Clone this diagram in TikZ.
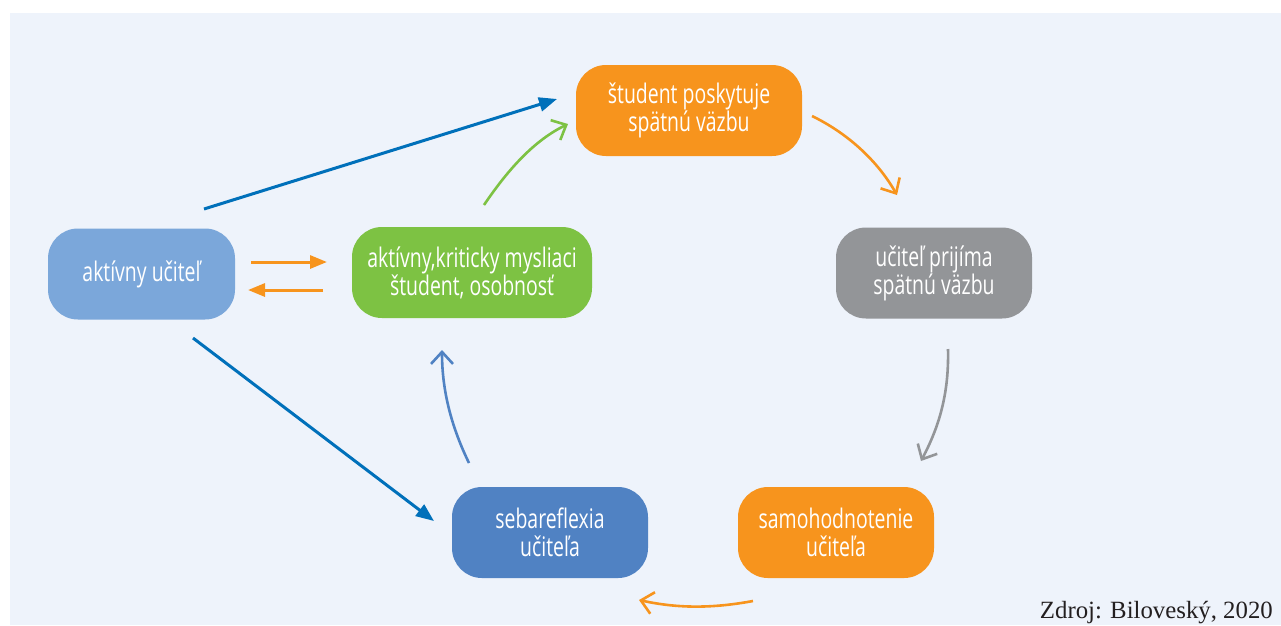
\documentclass[tikz,border=0pt]{standalone}
\usepackage{fontspec}
\setmainfont{Liberation Serif}
\newfontfamily\condfont[FakeStretch=0.72]{Open Sans}
\usetikzlibrary{arrows.meta}
\definecolor{bgc}{HTML}{EEF3FB}
\definecolor{lblue}{HTML}{7BA7DA}
\definecolor{grn}{HTML}{7DC243}
\definecolor{org}{HTML}{F7941D}
\definecolor{gry}{HTML}{939598}
\definecolor{mblue}{HTML}{5082C3}
\definecolor{dblue}{HTML}{0070BA}
\definecolor{txtc}{HTML}{231F20}
\tikzset{
  box/.style={rounded corners=30pt, minimum height=91pt, text=white, align=center,
    inner sep=0pt, font=\condfont\fontsize{27}{28}\selectfont},
  solidarr/.style={line width=3pt, -{Triangle[length=18pt,width=14pt]}},
  barbarr/.style={line width=2.6pt, -{Straight Barb[length=12pt,width=22pt]}},
}
\begin{document}
\begin{tikzpicture}[x=1pt,y=-1pt]
\useasboundingbox (0,0) rectangle (1281,625);
\fill[bgc] (10,13) rectangle (1281,625);

\node[box, fill=lblue, minimum width=187pt] (uc) at (141.5,274) {akt\'ivny u\v{c}ite\v{l}};
\node[box, fill=grn, minimum width=240pt] (st) at (472,272.5) {akt\'ivny,kriticky mysliaci\\\v{s}tudent, osobnos\v{t}};
\node[box, fill=org, minimum width=226pt] (sp) at (689,110.5) {\v{s}tudent poskytuje\\sp\"atn\'u v\"azbu};
\node[box, fill=gry, minimum width=196pt] (pr) at (934,273) {u\v{c}ite\v{l} prij\'ima\\sp\"atn\'u v\"azbu};
\node[box, fill=mblue, minimum width=196pt] (sb) at (550,532.5) {sebareflexia\\u\v{c}ite\v{l}a};
\node[box, fill=org, minimum width=196pt] (sh) at (836,532.5) {samohodnotenie\\u\v{c}ite\v{l}a};

\node[anchor=base east, text=txtc, font=\fontsize{24.8}{26}\selectfont, inner sep=0pt] (src) at (1273,618) {Zdroj: Bilovesk\'y, 2020};

% endpoints
\coordinate (a1) at (204,209); \coordinate (a2) at (557,99);
\coordinate (b1) at (193,338); \coordinate (b2) at (434,521);
\coordinate (c1) at (251,262); \coordinate (c2) at (327,262);
\coordinate (d1) at (323,290); \coordinate (d2) at (248,290);
\coordinate (g1) at (484,205); \coordinate (g2) at (568,124);
\coordinate (o1) at (812,116); \coordinate (o2) at (897,195);
\coordinate (r1) at (948,349); \coordinate (r2) at (921,461);
\coordinate (s1) at (753,601); \coordinate (s2) at (639,600);
\coordinate (m1) at (469,463); \coordinate (m2) at (442,350);

\draw[solidarr, dblue] (a1) -- (a2);
\draw[solidarr, dblue] (b1) -- (b2);
\draw[line width=3pt, org, -{Triangle[length=17pt,width=13pt]}] (c1) -- (c2);
\draw[line width=3pt, org, -{Triangle[length=17pt,width=13pt]}] (d1) -- (d2);

\draw[barbarr, grn] (g1) .. controls (509,168) and (535,140) .. (g2);
\draw[barbarr, org] (o1) .. controls (847,133) and (877,160) .. (o2);
\draw[barbarr, gry] (r1) .. controls (949,392) and (940,425) .. (r2);
\draw[barbarr, org] (s1) .. controls (715,608) and (680,609) .. (s2);
\draw[barbarr, mblue] (m1) .. controls (452,428) and (442,392) .. (m2);
\end{tikzpicture}
\end{document}
